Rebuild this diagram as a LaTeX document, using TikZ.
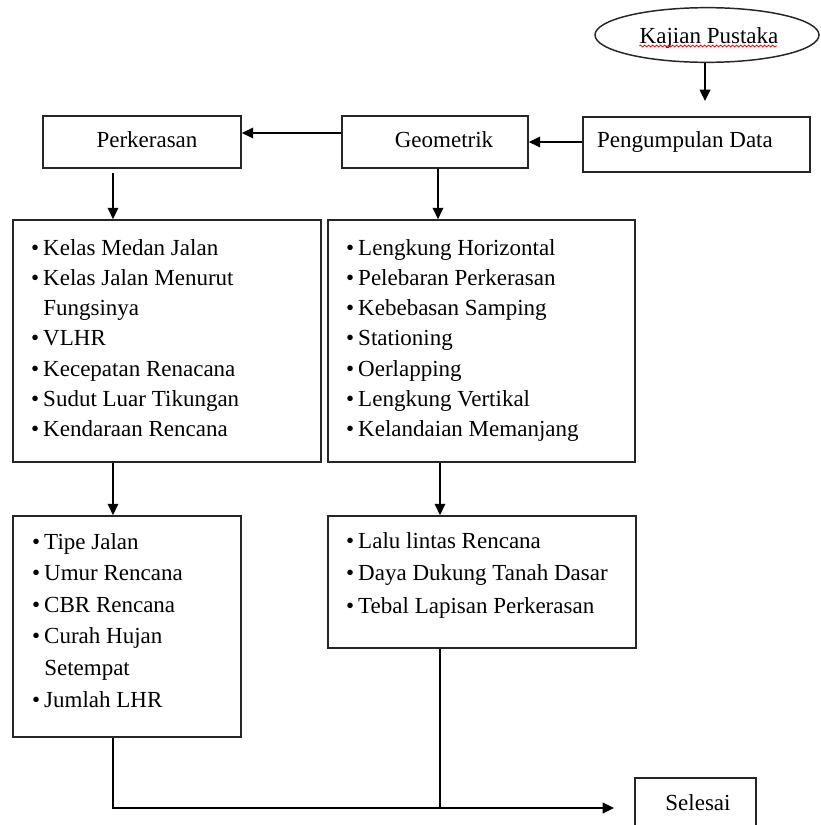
\documentclass[tikz,border=0pt]{standalone}
\usepackage{fontspec}
\setmainfont{Liberation Serif}
\usetikzlibrary{arrows.meta,shapes.geometric,decorations.pathmorphing,fit}
\begin{document}
\begin{tikzpicture}[x=0.75pt,y=-0.75pt,
  box/.style={draw=black!85, line width=1.3pt, inner sep=0pt},
  arr/.style={line width=1.1pt, -{Triangle[length=8.5pt,width=8pt]}},
  ln/.style={line width=1.1pt},
  txt/.style={font=\fontsize{17.25}{20}\selectfont, inner sep=0pt, anchor=base},
  item/.style={font=\fontsize{17.25}{20}\selectfont, inner sep=0pt, anchor=base west}]
\clip (0,0) rectangle (821,825);
\fill[white] (0,0) rectangle (821,825);

% ellipse
\node[draw=black!85, ellipse, line width=1.1pt, minimum width=168pt, minimum height=41pt, inner sep=0pt] (kaj) at (707,35) {};
\node[txt] (kajt) at (709,43) {Kajian Pustaka};
\draw[red, line width=0.6pt, decorate, decoration={snake, amplitude=0.7pt, segment length=3pt}] (kajt.base west) ++(0,3) -- ++(138,0);

% boxes
\node[box, fit={(43,116) (241,168)}] (perk) {};
\node[box, fit={(342,116) (528,168)}] (geo) {};
\node[box, fit={(583,117) (810,172)}] (peng) {};
\node[box, fit={(13,220) (321,462)}] (list1) {};
\node[box, fit={(328,220) (635,462)}] (list2) {};
\node[box, fit={(13,516) (241,737)}] (list3) {};
\node[box, fit={(328,516) (636,648)}] (list4) {};
\node[box, fit={(635,778) (756,840)}] (sel) {};

% box labels
\node[txt] (perkt) at (147,147) {Perkerasan};
\node[txt] (geot) at (444,147) {Geometrik};
\node[txt] (pengt) at (685,147) {Pengumpulan Data};
\node[txt] (selt) at (698,810) {Selesai};

% list 1
\foreach \t [count=\i] in {Kelas Medan Jalan, Kelas Jalan Menurut}
  \node[item] (a\i) at (43,255+30.3*\i-30.3) {\llap{\textbullet\hspace{3pt}}\t};
\node[item] (a3) at (43,315.6) {Fungsinya};
\foreach \t [count=\i from 4] in {VLHR, Kecepatan Renacana, Sudut Luar Tikungan, Kendaraan Rencana}
  \node[item] (a\i) at (43,255+30.3*\i-30.3) {\llap{\textbullet\hspace{3pt}}\t};

% list 2
\foreach \t [count=\i] in {Lengkung Horizontal, Pelebaran Perkerasan, Kebebasan Samping, Stationing, Oerlapping, Lengkung Vertikal, Kelandaian Memanjang}
  \node[item] (b\i) at (358,255+30.3*\i-30.3) {\llap{\textbullet\hspace{3pt}}\t};

% list 3
\foreach \t [count=\i] in {Tipe Jalan, Umur Rencana, CBR Rencana, Curah Hujan}
  \node[item] (c\i) at (44,549+31.6*\i-31.6) {\llap{\textbullet\hspace{3pt}}\t};
\node[item] (c5) at (44,675.4) {Setempat};
\node[item] (c6) at (44,707) {\llap{\textbullet\hspace{3pt}}Jumlah LHR};

% list 4
\foreach \t [count=\i] in {Lalu lintas Rencana, Daya Dukung Tanah Dasar, Tebal Lapisan Perkerasan}
  \node[item] (d\i) at (358,548+32.5*\i-32.5) {\llap{\textbullet\hspace{3pt}}\t};

% connectors
\coordinate (kajend) at (705,101);
\draw[arr] (kaj.south -| kajend) -- (kajend);
\draw[arr] (peng.west |- geo.east) -- (geo.east);
\draw[arr] ([yshift=6.75pt]geo.west) -- ([yshift=6.75pt]perk.east);
\coordinate (p1) at (113,173);
\draw[arr] (p1) -- (p1 |- list1.north);
\coordinate (gx) at (438,0);
\draw[arr] (geo.south -| gx) -- (list2.north -| gx);
\coordinate (lx) at (113,0);
\draw[arr] (list1.south -| lx) -- (list3.north -| lx);
\coordinate (rx) at (440,0);
\draw[arr] (list2.south -| rx) -- (list4.north -| rx);
\coordinate (endp) at (614,808);
\draw[arr] (list3.south -| lx) |- (endp);
\draw[ln] (list4.south -| rx) -- (rx |- endp);
\end{tikzpicture}
\end{document}
